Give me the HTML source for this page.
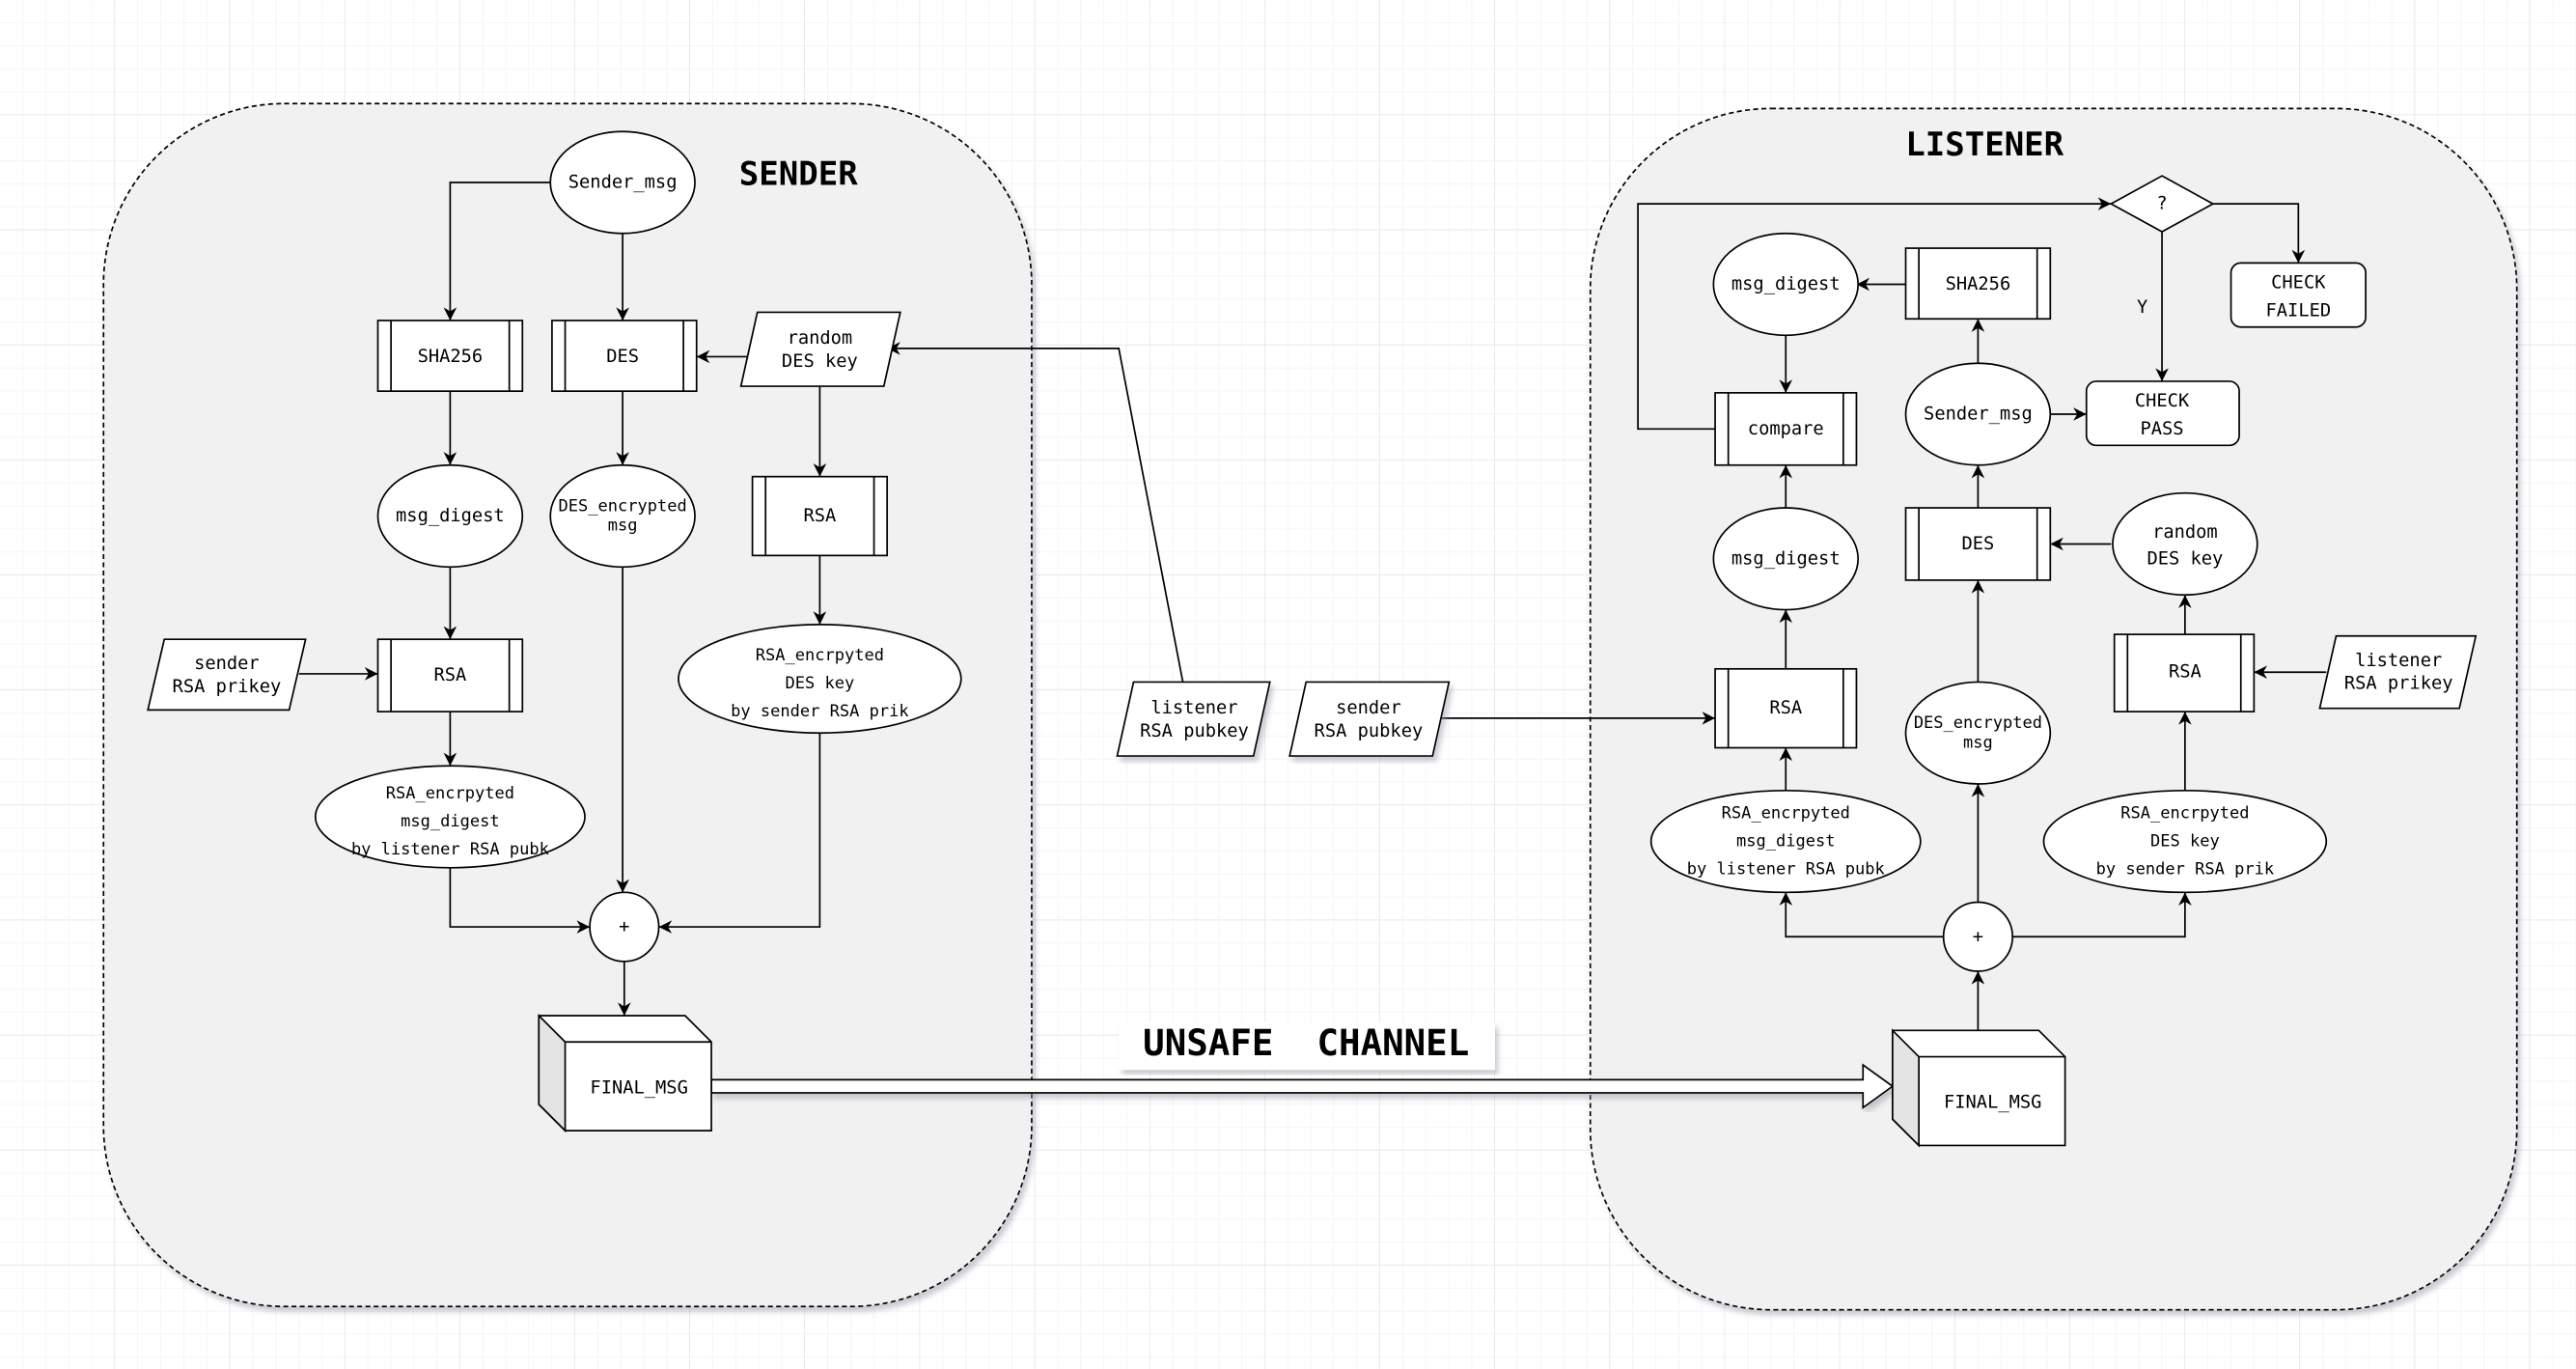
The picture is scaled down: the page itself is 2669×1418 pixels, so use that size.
<!DOCTYPE html>
<html><head><meta charset="utf-8"><style>
html,body{margin:0;padding:0;background:#fff}
svg{display:block}
text{font-family:"DejaVu Sans Mono","Liberation Mono",monospace;font-size:11px;fill:#000;text-anchor:middle;dominant-baseline:middle;white-space:pre}
.big{font-size:20px;font-weight:bold}
</style></head><body>
<svg width="2669" height="1418" viewBox="0 0 1568 833" xmlns="http://www.w3.org/2000/svg">
<defs>
<pattern id="mi" width="14" height="14" patternUnits="userSpaceOnUse"><path d="M14 0V14H0" fill="none" stroke="#ececec" stroke-width="0.6"/></pattern>
<pattern id="ma" width="70" height="70" patternUnits="userSpaceOnUse"><rect width="70" height="70" fill="url(#mi)"/><path d="M70 0V70H0" fill="none" stroke="#dcdcdc" stroke-width="0.7"/></pattern>
<marker id="ar" viewBox="0 0 10 10" refX="10" refY="5" markerWidth="8" markerHeight="8" orient="auto" markerUnits="userSpaceOnUse"><path d="M0 0L10 5L0 10L3 5Z" fill="#000"/></marker>
<filter id="sh" x="-5%" y="-5%" width="115%" height="115%"><feDropShadow dx="2" dy="3" stdDeviation="1.5" flood-color="#99a" flood-opacity="0.5"/></filter>
</defs>
<rect width="1568" height="833" fill="#fff"/>
<rect width="1568" height="833" fill="url(#ma)"/>
<g stroke="#000" stroke-width="1" fill="none">
<rect x="63" y="63" width="565" height="732" rx="110" fill="#f1f1f1" stroke-dasharray="3 2" filter="url(#sh)"/>
<rect x="968" y="66" width="564" height="731" rx="110" fill="#f1f1f1" stroke-dasharray="3 2" filter="url(#sh)"/>
</g>
<g stroke="#000" stroke-width="1" fill="none">
<path d="M335 111H274V195" marker-end="url(#ar)"/>
<path d="M379 142V195" marker-end="url(#ar)"/>
<path d="M456 217H424" marker-end="url(#ar)"/>
<path d="M499 235V290" marker-end="url(#ar)"/>
<path d="M274 238V283" marker-end="url(#ar)"/>
<path d="M379 238V283" marker-end="url(#ar)"/>
<path d="M274 345V389" marker-end="url(#ar)"/>
<path d="M182 410H230" marker-end="url(#ar)"/>
<path d="M274 433V466" marker-end="url(#ar)"/>
<path d="M499 338V380" marker-end="url(#ar)"/>
<path d="M274 528V564H359" marker-end="url(#ar)"/>
<path d="M379 345V543" marker-end="url(#ar)"/>
<path d="M499 446V564H401" marker-end="url(#ar)"/>
<path d="M380 585V618" marker-end="url(#ar)"/>
<path d="M720 415L681 212H540" marker-end="url(#ar)"/>
<path d="M870 437H1044" marker-end="url(#ar)"/>
<path d="M1204 627V591" marker-end="url(#ar)"/>
<path d="M1183 570H1087V543" marker-end="url(#ar)"/>
<path d="M1225 570H1330V543" marker-end="url(#ar)"/>
<path d="M1204 549V477" marker-end="url(#ar)"/>
<path d="M1087 481V455" marker-end="url(#ar)"/>
<path d="M1204 415V353" marker-end="url(#ar)"/>
<path d="M1330 481V433" marker-end="url(#ar)"/>
<path d="M1330 386V362" marker-end="url(#ar)"/>
<path d="M1416 409H1372" marker-end="url(#ar)"/>
<path d="M1285 331H1248" marker-end="url(#ar)"/>
<path d="M1087 407V371" marker-end="url(#ar)"/>
<path d="M1087 309V283" marker-end="url(#ar)"/>
<path d="M1204 309V283" marker-end="url(#ar)"/>
<path d="M1204 221V194" marker-end="url(#ar)"/>
<path d="M1160 173H1130" marker-end="url(#ar)"/>
<path d="M1087 204V239" marker-end="url(#ar)"/>
<path d="M1044 261H997V124H1285" marker-end="url(#ar)"/>
<path d="M1248 252H1270" marker-end="url(#ar)"/>
<path d="M1347 124H1399V160" marker-end="url(#ar)"/>
<path d="M1316 141V232" marker-end="url(#ar)"/>
</g>
<path d="M433 657H1134V648L1152 661L1134 674V665H433Z" fill="#fff" stroke="#000" stroke-width="1" filter="url(#sh)"/>
<g stroke="#000" stroke-width="1" fill="#fff">
<ellipse cx="379" cy="111" rx="44" ry="31"/>
<rect x="230" y="195" width="88" height="43"/><path d="M238 195V238M310 195V238"/>
<rect x="336" y="195" width="88" height="43"/><path d="M344 195V238M416 195V238"/>
<path d="M461 190H548L538 235H451Z"/>
<ellipse cx="274" cy="314" rx="44" ry="31"/>
<ellipse cx="379" cy="314" rx="44" ry="31"/>
<rect x="458" y="290" width="82" height="48"/><path d="M466 290V338M532 290V338"/>
<path d="M100 389H186L176 432H90Z"/>
<rect x="230" y="389" width="88" height="44"/><path d="M238 389V433M310 389V433"/>
<ellipse cx="499" cy="413" rx="86" ry="33"/>
<ellipse cx="274" cy="497" rx="82" ry="31"/>
<circle cx="380" cy="564" r="21"/>
<path d="M328 618H417L433 634V688H344L328 672Z"/>
<path d="M328 618L344 634V688L328 672Z" fill="#e4e4e4"/>
<path d="M344 634H433"/>
<path d="M690 415H773L763 460H680Z" filter="url(#sh)"/>
<path d="M795 415H882L872 460H785Z" filter="url(#sh)"/>
<path d="M1316 107L1347 124L1316 141L1285 124Z"/>
<rect x="1358" y="160" width="82" height="39" rx="6"/>
<rect x="1270" y="232" width="93" height="39" rx="6"/>
<ellipse cx="1087" cy="173" rx="44" ry="31"/>
<rect x="1160" y="151" width="88" height="43"/><path d="M1168 151V194M1240 151V194"/>
<rect x="1044" y="239" width="86" height="44"/><path d="M1052 239V283M1122 239V283"/>
<ellipse cx="1204" cy="252" rx="44" ry="31"/>
<ellipse cx="1087" cy="340" rx="44" ry="31"/>
<rect x="1160" y="309" width="88" height="44"/><path d="M1168 309V353M1240 309V353"/>
<ellipse cx="1330" cy="331" rx="44" ry="31"/>
<rect x="1044" y="407" width="86" height="48"/><path d="M1052 407V455M1122 407V455"/>
<ellipse cx="1204" cy="446" rx="44" ry="31"/>
<rect x="1287" y="386" width="85" height="47"/><path d="M1295 386V433M1364 386V433"/>
<path d="M1422 387H1507L1497 431H1412Z"/>
<ellipse cx="1087" cy="512" rx="82" ry="31"/>
<ellipse cx="1330" cy="512" rx="86" ry="31"/>
<circle cx="1204" cy="570" r="21"/>
<path d="M1152 627H1241L1257 643V697H1168L1152 681Z"/>
<path d="M1152 627L1168 643V697L1152 681Z" fill="#e4e4e4"/>
<path d="M1168 643H1257"/>
</g>
<rect x="681" y="622" width="229" height="29" fill="#fff" filter="url(#sh)"/>
<g>
<text x="486" y="107" class="big">SENDER</text>
<text x="1208" y="89" class="big">LISTENER</text>
<text x="795" y="636" style="font-size:22px;font-weight:bold">UNSAFE  CHANNEL</text>
<text x="379" y="111">Sender_msg</text>
<text x="274" y="217">SHA256</text>
<text x="379" y="217">DES</text>
<text x="499" y="206">random</text><text x="499" y="220">DES key</text>
<text x="274" y="314">msg_digest</text>
<text x="379" y="308" style="font-size:10px">DES_encrypted</text><text x="379" y="320" style="font-size:10px">msg</text>
<text x="499" y="314">RSA</text>
<text x="138" y="404">sender</text><text x="138" y="418">RSA prikey</text>
<text x="274" y="411">RSA</text>
<text x="499" y="399" style="font-size:10px">RSA_encrpyted</text><text x="499" y="416" style="font-size:10px">DES key</text><text x="499" y="433" style="font-size:10px">by sender RSA prik</text>
<text x="274" y="483" style="font-size:10px">RSA_encrpyted</text><text x="274" y="500" style="font-size:10px">msg_digest</text><text x="274" y="517" style="font-size:10px">by listener RSA pubk</text>
<text x="380" y="564">+</text>
<text x="389" y="662">FINAL_MSG</text>
<text x="727" y="431">listener</text><text x="727" y="445">RSA pubkey</text>
<text x="833" y="431">sender</text><text x="833" y="445">RSA pubkey</text>
<text x="1316" y="124">?</text>
<text x="1399" y="172">CHECK</text><text x="1399" y="189">FAILED</text>
<text x="1316" y="244">CHECK</text><text x="1316" y="261">PASS</text>
<text x="1304" y="187">Y</text>
<text x="1087" y="173">msg_digest</text>
<text x="1204" y="173">SHA256</text>
<text x="1087" y="261">compare</text>
<text x="1204" y="252">Sender_msg</text>
<text x="1087" y="340">msg_digest</text>
<text x="1204" y="331">DES</text>
<text x="1330" y="324">random</text><text x="1330" y="340">DES key</text>
<text x="1087" y="431">RSA</text>
<text x="1204" y="440" style="font-size:10px">DES_encrypted</text><text x="1204" y="452" style="font-size:10px">msg</text>
<text x="1330" y="409">RSA</text>
<text x="1460" y="402">listener</text><text x="1460" y="416">RSA prikey</text>
<text x="1087" y="495" style="font-size:10px">RSA_encrpyted</text><text x="1087" y="512" style="font-size:10px">msg_digest</text><text x="1087" y="529" style="font-size:10px">by listener RSA pubk</text>
<text x="1330" y="495" style="font-size:10px">RSA_encrpyted</text><text x="1330" y="512" style="font-size:10px">DES key</text><text x="1330" y="529" style="font-size:10px">by sender RSA prik</text>
<text x="1204" y="570">+</text>
<text x="1213" y="671">FINAL_MSG</text>
</g>
</svg>
</body></html>
